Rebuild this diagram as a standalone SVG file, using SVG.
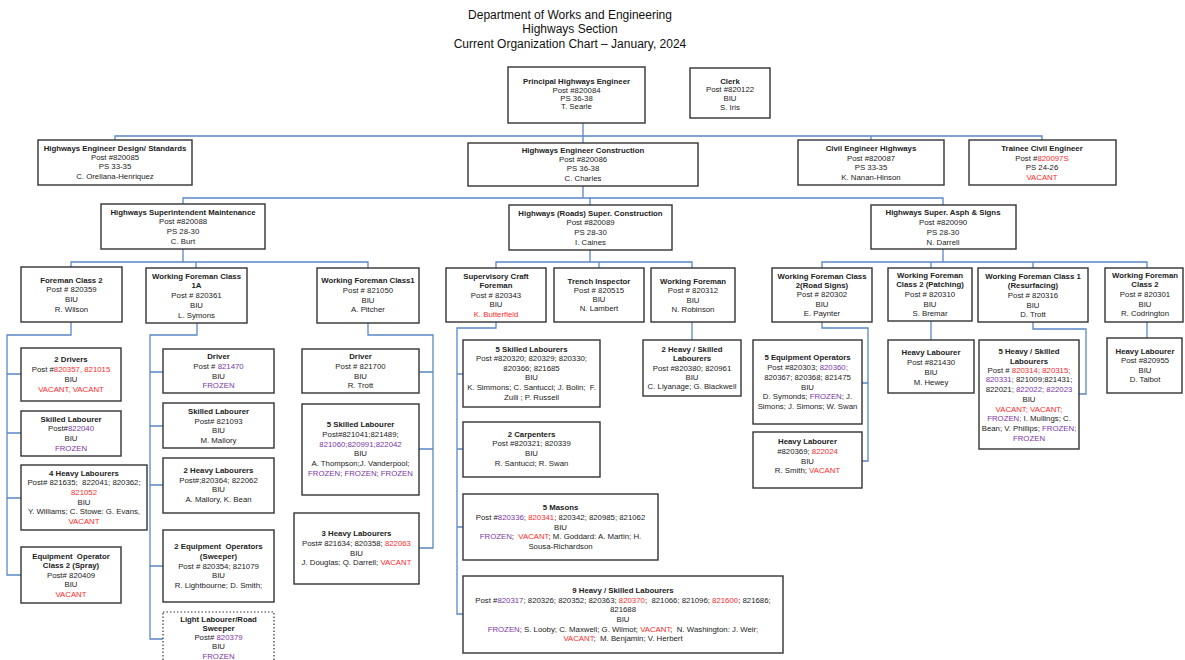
<svg xmlns="http://www.w3.org/2000/svg" width="1185" height="660" viewBox="0 0 1185 660">
<style>
text{font-family:"Liberation Sans",Arial,sans-serif;font-size:7.8px;fill:#222;text-anchor:middle}
.ttl{font-size:12px;fill:#111}
.b{font-weight:bold}
.r{fill:#ff2a2a}
.p{fill:#7a35a8}
.box{fill:#fff;stroke:#333;stroke-width:1.4}
.dot{fill:#fff;stroke:#333;stroke-width:1.2;stroke-dasharray:1.5 2}
.con{fill:none;stroke:#5a87c8;stroke-width:1.3}
</style>
<rect width="1185" height="660" fill="#fff"/>
<g id="title">
<text class="ttl" x="570" y="19">Department of Works and Engineering</text>
<text class="ttl" x="570" y="33">Highways Section</text>
<text class="ttl" x="570" y="48">Current Organization Chart –  January, 2024</text>
</g>
<g id="connectors" class="con">
<path d="M583,123V143M115,140V136H1042V140M871,136V140"/>
<path d="M583,186V198M183,204V198H943V205M590,198V205"/>
<path d="M183,249V262M71,267V262H368V268M196,262V268"/>
<path d="M590,250V262M496,268V262H692V268M599,262V268"/>
<path d="M943,249V262M822,268V262H1147V268M931,262V268M1033,262V268"/>
<path d="M71,322V335H7V575H21M7,374H21M7,433H21M7,498H21"/>
<path d="M197,323V335H150V639H163M150,372H163M150,426H163M150,485H163M150,566H163"/>
<path d="M368,323V335H433V548H419M433,372H419M433,449H419"/>
<path d="M496,322V328H457V614H463M457,374H463M457,449H463M457,527H463"/>
<path d="M692,322V340"/>
<path d="M822,322V328H868V461H862M868,383H862"/>
<path d="M931,321V340"/>
<path d="M1033,322V329H1086V394H1079"/>
<path d="M1147,322V338"/>
</g>
<g id="principal"><rect class="box" x="508" y="67" width="137" height="56"/>
<text class="b" x="576.5" y="84">Principal Highways Engineer</text><text x="576.5" y="93">Post #820084</text><text x="576.5" y="101">PS 36-38</text><text x="576.5" y="109">T. Searle</text></g>
<g id="clerk"><rect class="box" x="690" y="68" width="80" height="50"/>
<text class="b" x="730" y="84">Clerk</text><text x="730" y="92">Post #820122</text><text x="730" y="101">BIU</text><text x="730" y="110">S. Iris</text></g>
<g id="design"><rect class="box" x="38" y="140" width="154" height="45"/>
<text class="b" x="115" y="151">Highways Engineer Design/ Standards</text><text x="115" y="160">Post #820085</text><text x="115" y="169">PS 33-35</text><text x="115" y="179">C. Orellana-Henriquez</text></g>
<g id="construction"><rect class="box" x="468" y="143" width="230" height="43"/>
<text class="b" x="583" y="153">Highways Engineer Construction</text><text x="583" y="162">Post #820086</text><text x="583" y="171">PS 36-38</text><text x="583" y="181">C. Charles</text></g>
<g id="civil"><rect class="box" x="798" y="140" width="146" height="45"/>
<text class="b" x="871" y="151">Civil Engineer Highways</text><text x="871" y="161">Post #820087</text><text x="871" y="170">PS 33-35</text><text x="871" y="180">K. Nanan-Hinson</text></g>
<g id="trainee"><rect class="box" x="969" y="140" width="147" height="45"/>
<text class="b" x="1042" y="151">Trainee Civil Engineer</text><text x="1042" y="161">Post #<tspan class="r">820097S</tspan></text><text x="1042" y="170">PS 24-26</text><text class="r" x="1042" y="180">VACANT</text></g>
<g id="maint"><rect class="box" x="101" y="204" width="164" height="45"/>
<text class="b" x="183" y="215">Highways Superintendent Maintenance</text><text x="183" y="224">Post #820088</text><text x="183" y="234">PS 28-30</text><text x="183" y="244">C. Burt</text></g>
<g id="roads"><rect class="box" x="509" y="205" width="163" height="45"/>
<text class="b" x="590.5" y="216">Highways (Roads) Super. Construction</text><text x="590.5" y="225">Post #820089</text><text x="590.5" y="235">PS 28-30</text><text x="590.5" y="245">I. Caines</text></g>
<g id="asph"><rect class="box" x="871" y="205" width="145" height="44"/>
<text class="b" x="943" y="215">Highways Super. Asph &amp; Signs</text><text x="943" y="225">Post #820090</text><text x="943" y="235">PS 28-30</text><text x="943" y="245">N. Darrell</text></g>
<g id="foreman2"><rect class="box" x="21" y="267" width="101" height="55"/>
<text class="b" x="71.5" y="283">Foreman Class 2</text><text x="71.5" y="292">Post # 820359</text><text x="71.5" y="302">BIU</text><text x="71.5" y="312">R. Wilson</text></g>
<g id="wf1a"><rect class="box" x="146" y="268" width="101" height="55"/>
<text class="b" x="196.5" y="279">Working Foreman Class</text><text class="b" x="196.5" y="288">1A</text><text x="196.5" y="298">Post # 820361</text><text x="196.5" y="308">BIU</text><text x="196.5" y="318">L. Symons</text></g>
<g id="wf1"><rect class="box" x="317" y="268" width="102" height="55"/>
<text class="b" x="368" y="283">Working Foreman Class1</text><text x="368" y="293">Post # 821050</text><text x="368" y="303">BIU</text><text x="368" y="312">A. Pitcher</text></g>
<g id="supervisory"><rect class="box" x="446" y="268" width="100" height="54"/>
<text class="b" x="496" y="279">Supervisory Craft</text><text class="b" x="496" y="288">Foreman</text><text x="496" y="298">Post # 820343</text><text x="496" y="307">BIU</text><text class="r" x="496" y="317">K. Butterfield</text></g>
<g id="trench"><rect class="box" x="554" y="268" width="90" height="54"/>
<text class="b" x="599" y="284">Trench Inspector</text><text x="599" y="293">Post # 820515</text><text x="599" y="302">BIU</text><text x="599" y="311">N. Lambert</text></g>
<g id="wfrobinson"><rect class="box" x="651" y="268" width="84" height="54"/>
<text class="b" x="693" y="284">Working Foreman</text><text x="693" y="293">Post # 820312</text><text x="693" y="303">BIU</text><text x="693" y="312">N. Robinson</text></g>
<g id="wfroadsigns"><rect class="box" x="772" y="268" width="100" height="54"/>
<text class="b" x="822" y="279">Working Foreman Class</text><text class="b" x="822" y="288">2(Road Signs)</text><text x="822" y="297">Post # 820302</text><text x="822" y="307">BIU</text><text x="822" y="316">E. Paynter</text></g>
<g id="wfpatching"><rect class="box" x="888" y="268" width="84" height="53"/>
<text class="b" x="930" y="278">Working Foreman</text><text class="b" x="930" y="287">Class 2 (Patching)</text><text x="930" y="297">Post # 820310</text><text x="930" y="307">BIU</text><text x="930" y="316">S. Bremar</text></g>
<g id="wfresurfacing"><rect class="box" x="978" y="268" width="110" height="54"/>
<text class="b" x="1033" y="279">Working Foreman Class 1</text><text class="b" x="1033" y="288">(Resurfacing)</text><text x="1033" y="298">Post # 820316</text><text x="1033" y="308">BIU</text><text x="1033" y="317">D. Trott</text></g>
<g id="wfcodrington"><rect class="box" x="1105" y="268" width="78" height="54"/>
<text class="b" x="1145" y="278">Working Foreman</text><text class="b" x="1145" y="287">Class 2</text><text x="1145" y="297">Post # 820301</text><text x="1145" y="307">BIU</text><text x="1145" y="316">R. Codrington</text></g>
<g id="drivers2"><rect class="box" x="21" y="348" width="100" height="53"/>
<text class="b" x="71" y="362">2 Drivers</text><text x="71" y="372">Post #<tspan class="r">820357, 821015</tspan></text><text x="71" y="382">BIU</text><text class="r" x="71" y="392">VACANT, VACANT</text></g>
<g id="skilledfc2"><rect class="box" x="21" y="411" width="100" height="45"/>
<text class="b" x="71" y="422">Skilled Labourer</text><text x="71" y="431">Post#<tspan class="p">822040</tspan></text><text x="71" y="441">BIU</text><text class="p" x="71" y="451">FROZEN</text></g>
<g id="heavy4"><rect class="box" x="21" y="465" width="126" height="65"/>
<text class="b" x="84" y="476">4 Heavy Labourers</text><text x="84" y="485" xml:space="preserve">Post# 821635;  822041; 820362;</text><text class="r" x="84" y="495">821052</text><text x="84" y="505">BIU</text><text x="84" y="514">Y. Williams; C. Stowe: G. Evans,</text><text class="r" x="84" y="524">VACANT</text></g>
<g id="equipspray"><rect class="box" x="21" y="547" width="100" height="56"/>
<text class="b" x="71" y="559" xml:space="preserve">Equipment  Operator</text><text class="b" x="71" y="568">Class 2 (Spray)</text><text x="71" y="578">Post# 820409</text><text x="71" y="587">BIU</text><text class="r" x="71" y="597">VACANT</text></g>
<g id="driver1a"><rect class="box" x="163" y="349" width="111" height="44"/>
<text class="b" x="218.5" y="359">Driver</text><text x="218.5" y="369">Post # <tspan class="p">821470</tspan></text><text x="218.5" y="379">BIU</text><text class="p" x="218.5" y="388">FROZEN</text></g>
<g id="skilled1a"><rect class="box" x="163" y="403" width="111" height="45"/>
<text class="b" x="218.5" y="414">Skilled Labourer</text><text x="218.5" y="424">Post# 821093</text><text x="218.5" y="433">BIU</text><text x="218.5" y="443">M. Mallory</text></g>
<g id="heavy2"><rect class="box" x="163" y="458" width="111" height="55"/>
<text class="b" x="218.5" y="473">2 Heavy Labourers</text><text x="218.5" y="483">Post#;820364; 822062</text><text x="218.5" y="492">BIU</text><text x="218.5" y="502">A. Mallory, K. Bean</text></g>
<g id="equipsweeper"><rect class="box" x="163" y="530" width="111" height="72"/>
<text class="b" x="218.5" y="549" xml:space="preserve">2 Equipment  Operators</text><text class="b" x="218.5" y="559">(Sweeper)</text><text x="218.5" y="569">Post # 820354; 821079</text><text x="218.5" y="578">BIU</text><text x="218.5" y="588">R. Lightbourne; D. Smith;</text></g>
<g id="lightlabourer"><rect class="dot" x="163" y="612" width="111" height="60"/>
<text class="b" x="218.5" y="622">Light Labourer/Road</text><text class="b" x="218.5" y="631">Sweeper</text><text x="218.5" y="640">Post# <tspan class="p">820379</tspan></text><text x="218.5" y="649">BIU</text><text class="p" x="218.5" y="658.5">FROZEN</text></g>
<g id="driverwf1"><rect class="box" x="302" y="349" width="117" height="44"/>
<text class="b" x="360.5" y="359">Driver</text><text x="360.5" y="369">Post # 821700</text><text x="360.5" y="379">BIU</text><text x="360.5" y="388">R. Trott</text></g>
<g id="skilled5wf1"><rect class="box" x="302" y="404" width="117" height="91"/>
<text class="b" x="360.5" y="427">5 Skilled Labourer</text><text x="360.5" y="437">Post#821041;821489;</text><text class="p" x="360.5" y="447">821060;820991;822042</text><text x="360.5" y="456">BIU</text><text x="360.5" y="466">A. Thompson;J. Vanderpool;</text><text class="p" x="360.5" y="476">FROZEN; FROZEN; FROZEN</text></g>
<g id="heavy3"><rect class="box" x="294" y="513" width="125" height="71"/>
<text class="b" x="356.5" y="536">3 Heavy Labourers</text><text x="356.5" y="546">Post# 821634; 820358; <tspan class="r">822063</tspan></text><text x="356.5" y="556">BIU</text><text x="356.5" y="565">J. Douglas; Q. Darrell; <tspan class="r">VACANT</tspan></text></g>
<g id="skilled5"><rect class="box" x="463" y="340" width="137" height="67"/>
<text class="b" x="531.5" y="352">5 Skilled Labourers</text><text x="531.5" y="361">Post #820320; 820329; 820330;</text><text x="531.5" y="371">820366; 821685</text><text x="531.5" y="380">BIU</text><text x="531.5" y="390" xml:space="preserve">K. Simmons; C. Santucci; J. Bolin;  F.</text><text x="531.5" y="400">Zulli ; P. Russell</text></g>
<g id="carpenters"><rect class="box" x="463" y="422" width="137" height="55"/>
<text class="b" x="531.5" y="437">2 Carpenters</text><text x="531.5" y="446">Post #820321; 820339</text><text x="531.5" y="456">BIU</text><text x="531.5" y="466">R. Santucci; R. Swan</text></g>
<g id="masons"><rect class="box" x="463" y="494" width="195" height="66"/>
<text class="b" x="560.5" y="510">5 Masons</text><text x="560.5" y="520">Post #<tspan class="p">820336</tspan>; <tspan class="r">820341</tspan>; 820342; 820985; 821062</text><text x="560.5" y="530">BIU</text><text x="560.5" y="539" xml:space="preserve"><tspan class="p">FROZEN</tspan>;  <tspan class="r">VACANT</tspan>; M. Goddard: A. Martin; H.</text><text x="560.5" y="549">Sousa-Richardson</text></g>
<g id="heavy9"><rect class="box" x="463" y="576" width="320" height="77"/>
<text class="b" x="623" y="593">9 Heavy / Skilled Labourers</text><text x="623" y="603" xml:space="preserve">Post #<tspan class="p">820317</tspan>; 820326; 820352; 820363; <tspan class="r">820370</tspan>;  821066; 821096; <tspan class="r">821600</tspan>; 821686;</text><text x="623" y="612">821688</text><text x="623" y="622">BIU</text><text x="623" y="632" xml:space="preserve"><tspan class="p">FROZEN</tspan>; S. Looby; C. Maxwell; G. Wilmot; <tspan class="r">VACANT</tspan>;  N. Washington: J. Weir<tspan class="r">;</tspan></text><text x="623" y="641" xml:space="preserve"><tspan class="r">VACANT</tspan>;  M. Benjamin; V. Herbert</text></g>
<g id="heavyskilled2"><rect class="box" x="643" y="340" width="98" height="56"/>
<text class="b" x="692" y="352">2 Heavy / Skilled</text><text class="b" x="692" y="361">Labourers</text><text x="692" y="371">Post #820380; 820961</text><text x="692" y="380">BIU</text><text x="692" y="389">C. Liyanage; G. Blackwell</text></g>
<g id="equip5"><rect class="box" x="753" y="340" width="109" height="84"/>
<text class="b" x="807.5" y="360">5 Equipment Operators</text><text x="807.5" y="370">Post #820303; <tspan class="p">820360;</tspan></text><text x="807.5" y="380">820367; 820368; 821475</text><text x="807.5" y="390">BIU</text><text x="807.5" y="399">D. Symonds; <tspan class="p">FROZEN</tspan>; J.</text><text x="807.5" y="409">Simons; J. Simons; W. Swan</text></g>
<g id="heavyrs"><rect class="box" x="753" y="432" width="109" height="56"/>
<text class="b" x="807.5" y="444">Heavy Labourer</text><text x="807.5" y="454">#820369; <tspan class="r">822024</tspan></text><text x="807.5" y="464">BIU</text><text x="807.5" y="473">R. Smith; <tspan class="r">VACANT</tspan></text></g>
<g id="heavypatching"><rect class="box" x="888" y="340" width="86" height="53"/>
<text class="b" x="931" y="355">Heavy Labourer</text><text x="931" y="365">Post #821430</text><text x="931" y="375">BIU</text><text x="931" y="385">M. Hewey</text></g>
<g id="heavyskilled5"><rect class="box" x="979" y="340" width="100" height="109"/>
<text class="b" x="1029" y="354">5 Heavy / Skilled</text><text class="b" x="1029" y="364">Labourers</text><text x="1029" y="373">Post # <tspan class="r">820314; 820315;</tspan></text><text x="1029" y="382"><tspan class="p">820331;</tspan> 821009;821431;</text><text x="1029" y="392">822021; <tspan class="p">822022; 822023</tspan></text><text x="1029" y="402">BIU</text><text class="r" x="1029" y="412">VACANT; VACANT;</text><text x="1029" y="421"><tspan class="p">FROZEN;</tspan> I. Mullings; C.</text><text x="1029" y="431">Bean; V. Phillips; <tspan class="p">FROZEN;</tspan></text><text class="p" x="1029" y="441">FROZEN</text></g>
<g id="heavycodrington"><rect class="box" x="1107" y="338" width="75" height="55"/>
<text class="b" x="1145" y="354">Heavy Labourer</text><text x="1145" y="363">Post #820955</text><text x="1145" y="373">BIU</text><text x="1145" y="382">D. Talbot</text></g>
</svg>
